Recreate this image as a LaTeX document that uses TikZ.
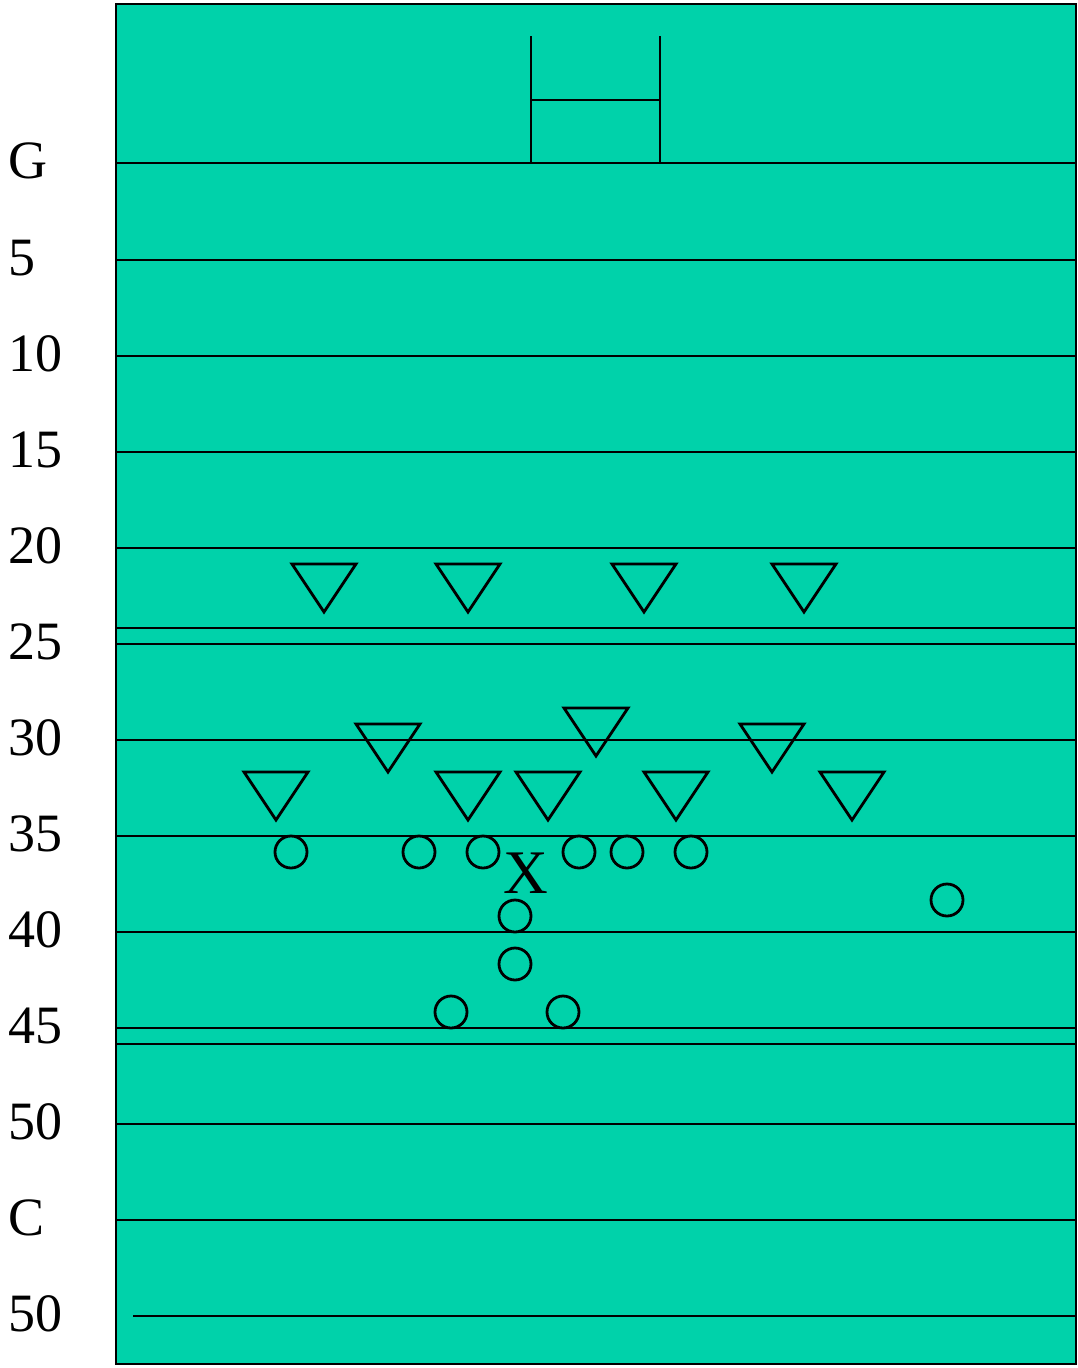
\documentclass[tikz,border=0pt]{standalone}
\usepackage{fontspec}
\setmainfont{Liberation Serif}
\definecolor{turf}{RGB}{0,210,170}
\tikzset{
  yardline/.style={line width=2.8pt},
  defender/.style={line width=2.8pt, line join=miter},
  player/.style={line width=2.8pt},
  yardlabel/.style={anchor=base west, inner sep=0pt, font=\fontsize{54}{60}\selectfont}
}
\begin{document}
\begin{tikzpicture}[x=1pt, y=-1pt]
  \useasboundingbox (0,0) rectangle (1078,1368);
  \draw[line width=2.8pt, fill=turf] (116,4) rectangle (1076,1364);
  % goal posts
  \draw[yardline] (531,36) -- (531,163) (660,36) -- (660,163) (531,100) -- (660,100);
  % yard lines
  \foreach \y in {163,260,356,452,548,628,644,740,836,932,1028,1044,1124,1220}
    \draw[yardline] (116,\y) -- (1076,\y);
  \draw[yardline] (133,1316) -- (1076,1316);
  % labels
  \foreach \txt/\y in {G/163, 5/260, 10/356, 15/452, 20/548, 25/644, 30/740,
                       35/836, 40/932, 45/1028, 50/1124, C/1220, 50/1316}
    \node[yardlabel] (lbl\y) at (8,\y+15) {\txt};
  % defence
  \foreach \x/\y in {324/564, 468/564, 644/564, 804/564,
                     388/724, 596/708, 772/724,
                     276/772, 468/772, 548/772, 676/772, 852/772}
    \draw[defender] (\x-32,\y) -- (\x+32,\y) -- (\x,\y+48) -- cycle;
  % offence
  \foreach \x/\y in {291/852, 419/852, 483/852, 579/852, 627/852, 691/852,
                     947/900, 515/916, 515/964, 451/1012, 563/1012}
    \draw[player] (\x,\y) circle (16pt);
  \node[inner sep=0pt, anchor=base, font=\fontsize{62}{66}\selectfont] (ball) at (526,893) {X};
\end{tikzpicture}
\end{document}
